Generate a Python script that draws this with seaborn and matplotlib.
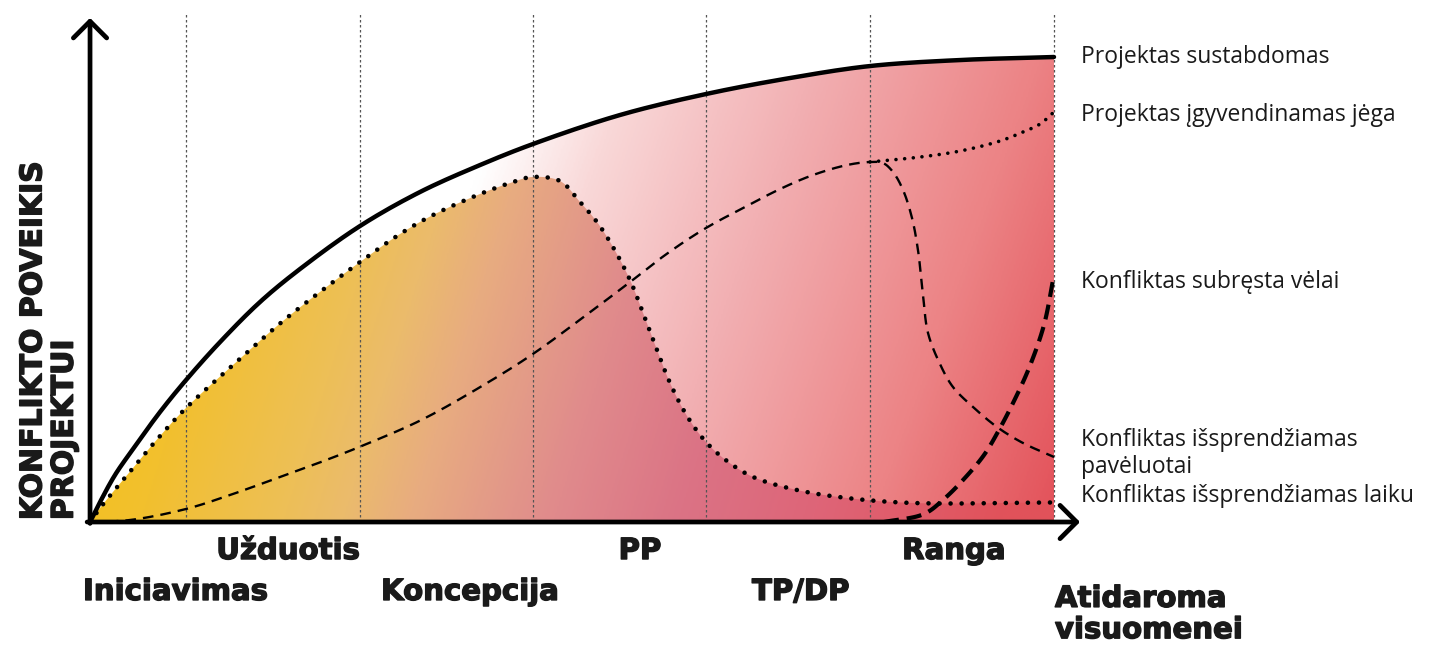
import numpy as np
import seaborn as sns
import matplotlib.pyplot as plt
import matplotlib.patheffects as pe
from matplotlib.colors import LinearSegmentedColormap
from matplotlib.patches import Polygon

# project timeline 0..100, impact 0..100
stage_x = [9.96, 28.0, 45.95, 63.9, 80.9, 100.0]

# Projektas sustabdomas - envelope
env_x = [0, 1.04, 2.59, 4.46, 7.26, 9.96, 13.49, 17.63, 21.78, 28.01, 34.23,
         40.46, 45.95, 54.98, 63.90, 72.61, 80.91, 90.25, 100]
env_y = [0, 4.30, 10.11, 15.70, 23.66, 30.54, 38.71, 47.31, 54.41, 63.66, 70.97,
         76.77, 81.29, 87.53, 92.04, 95.48, 98.06, 99.35, 100]

# Konfliktas issprendziamas laiku - dotted hump
ontime_x = [0, 1.04, 4.46, 7.26, 9.96, 14.83, 20.02, 25.21, 28.01, 32.16, 35.58,
            40.46, 43.57, 45.85, 48.76, 50.83, 52.59, 54.25, 56.02, 57.37, 58.82,
            60.17, 61.93, 63.90, 66.08, 68.78, 73.34, 78.53, 85.37, 100]
ontime_y = [0, 3.01, 11.61, 18.49, 24.52, 33.76, 43.23, 51.61, 55.91, 61.94, 66.02,
            70.54, 72.90, 74.19, 73.33, 68.82, 64.52, 59.14, 52.04, 44.95, 36.99,
            29.89, 22.80, 17.20, 13.12, 9.68, 6.88, 5.16, 4.09, 4.20]

# Konfliktas issprendziamas pavėluotai - thin dashed
late_x = [0, 4.15, 9.96, 14.52, 19.71, 24.59, 28.01, 34.23, 40.46, 45.85, 50.83,
          56.02, 59.85, 63.90, 68.15, 71.58, 75.00, 78.53, 80.91, 82.26, 83.30,
          84.34, 85.27, 85.89, 86.41, 86.93, 88.17, 89.52, 91.60, 94.09, 96.78, 100]
late_y = [0, 0.43, 2.80, 5.81, 9.68, 13.40, 16.20, 21.80, 29.00, 36.00, 43.50,
          51.60, 57.70, 63.23, 67.96, 71.61, 74.62, 76.77, 77.42, 77.20, 75.27,
          71.40, 65.38, 58.49, 48.82, 40.65, 33.98, 29.03, 24.73, 20.43, 16.99, 13.98]

# Projektas igyvendinamas jega - dotted branch
force_x = [80.91, 81.95, 86.10, 90.25, 94.40, 96.78, 98.55, 100]
force_y = [77.42, 77.63, 78.49, 79.78, 81.94, 83.87, 85.59, 88.17]

# Konfliktas subresta velai - long dash
ripe_x = [82.37, 86.51, 88.59, 90.66, 92.74, 94.29, 95.85, 97.41, 98.96, 100]
ripe_y = [0, 1.72, 4.95, 9.25, 14.41, 19.78, 26.02, 33.12, 42.37, 53.12]

phase_upper = ["Užduotis", "PP", "Ranga"]
phase_upper_x = [20.54, 57.05, 89.6]
phase_lower = ["Iniciavimas", "Koncepcija", "TP/DP"]
phase_lower_x = [-0.73, 30.19, 68.67]

outcomes = ["Projektas sustabdomas", "Projektas įgyvendinamas jėga",
            "Konfliktas subręsta vėlai", "Konfliktas išsprendžiamas",
            "pavėluotai", "Konfliktas išsprendžiamas laiku"]
outcomes_y = [100.0, 87.5, 51.6, 17.6, 11.8, 5.6]


# centripetal Catmull-Rom through the read points, just for a smooth stroke
def smooth(xs, ys, n=14):
    P = np.column_stack([xs, ys]).astype(float)
    P = np.vstack([2 * P[0] - P[1], P, 2 * P[-1] - P[-2]])
    scale = np.array([9.64, 4.65])
    out = []
    for i in range(1, len(P) - 2):
        p0, p1, p2, p3 = P[i - 1], P[i], P[i + 1], P[i + 2]
        t0 = 0.0
        t1 = t0 + np.linalg.norm((p1 - p0) * scale) ** 0.5
        t2 = t1 + np.linalg.norm((p2 - p1) * scale) ** 0.5
        t3 = t2 + np.linalg.norm((p3 - p2) * scale) ** 0.5
        t = np.linspace(t1, t2, n, endpoint=False)[:, None]
        a1 = (t1 - t) / (t1 - t0) * p0 + (t - t0) / (t1 - t0) * p1
        a2 = (t2 - t) / (t2 - t1) * p1 + (t - t1) / (t2 - t1) * p2
        a3 = (t3 - t) / (t3 - t2) * p2 + (t - t2) / (t3 - t2) * p3
        b1 = (t2 - t) / (t2 - t0) * a1 + (t - t0) / (t2 - t0) * a2
        b2 = (t3 - t) / (t3 - t1) * a2 + (t - t1) / (t3 - t1) * a3
        c = (t2 - t) / (t2 - t1) * b1 + (t - t1) / (t2 - t1) * b2
        out.append(c)
    out.append(P[-2][None, :])
    out = np.vstack(out)
    return out[:, 0], out[:, 1]


sns.set_theme(style="white")
plt.rcParams['font.family'] = ['DejaVu Sans']

fig = plt.figure(figsize=(14.39, 6.45), dpi=100)
ax = fig.add_axes([0, 0, 1, 1])

env_sx, env_sy = smooth(env_x, env_y)
ont_sx, ont_sy = smooth(ontime_x, ontime_y)
late_sx, late_sy = smooth(late_x, late_y)
force_sx, force_sy = smooth(force_x, force_y)
ripe_sx, ripe_sy = smooth(ripe_x, ripe_y)

# gradient fills
gx = np.linspace(0, 100, 600)
gy = np.linspace(0, 100, 300)
GX, GY = np.meshgrid(gx, gy)

base_cmap = LinearSegmentedColormap.from_list("base", [
    (0.0, "#FFFFFF"), (0.38, "#FFFFFF"), (0.48, "#F9D8D8"), (0.64, "#F2B0B3"),
    (0.84, "#EC8385"), (1.0, "#E3525A")])
t_base = np.clip(0.85 * GX / 100 + 0.15 * (1 - GY / 100), 0, 1)
im1 = ax.imshow(base_cmap(t_base), extent=[0, 100, 0, 100], origin="lower",
                aspect="auto", interpolation="bilinear", zorder=1)
env_poly = Polygon(np.column_stack([np.r_[env_sx, 100, 0], np.r_[env_sy, 0, 0]]),
                   closed=True, facecolor="none", edgecolor="none")
ax.add_patch(env_poly)
im1.set_clip_path(env_poly)

warm_cmap = LinearSegmentedColormap.from_list("warm", [
    (0.0, "#F3C11F"), (0.1, "#F2C02E"), (0.25, "#EDBF58"), (0.31, "#EBBB6C"),
    (0.38, "#E8AC80"), (0.46, "#E39A88"), (0.53, "#E08A8C"), (0.66, "#DB7385"),
    (0.8, "#DE6578"), (1.0, "#E1525A")])
t_warm = np.clip(GX / 100 - 0.15 * GY / 100 + 0.05, 0, 1)
im2 = ax.imshow(warm_cmap(t_warm), extent=[0, 100, 0, 100], origin="lower",
                aspect="auto", interpolation="bilinear", zorder=1.5)
warm_poly = Polygon(np.column_stack([np.r_[ont_sx, 100, 0], np.r_[ont_sy, 0, 0]]),
                    closed=True, facecolor="none", edgecolor="none")
ax.add_patch(warm_poly)
im2.set_clip_path(warm_poly)

# stage gridlines
ax.vlines(stage_x, 0, 109.7, colors="#555555", lw=0.9, linestyles=(0, (2, 2)), zorder=2)

# curves
sns.lineplot(x=late_sx, y=late_sy, ax=ax, color="black", lw=1.7, sort=False,
             linestyle=(0, (4.5, 3)), zorder=3)
sns.lineplot(x=force_sx, y=force_sy, ax=ax, color="black", lw=2.6, sort=False,
             linestyle=(0, (0.01, 2.4)), dash_capstyle="round", zorder=3)
sns.lineplot(x=ripe_sx, y=ripe_sy, ax=ax, color="black", lw=3.0, sort=False,
             linestyle=(0, (3.6, 1.9)), zorder=3)
sns.lineplot(x=ont_sx, y=ont_sy, ax=ax, color="black", lw=3.3, sort=False,
             linestyle=(0, (0.01, 2.4)), dash_capstyle="round", zorder=3)
sns.lineplot(x=env_sx, y=env_sy, ax=ax, color="black", lw=3.2, sort=False, zorder=4)

# axis arrows
arrow = dict(arrowstyle="->,head_length=0.6,head_width=0.6", lw=3.4,
             color="black", mutation_scale=20, shrinkA=0, shrinkB=0)
ax.annotate("", xy=(0, 108.4), xytext=(0, -0.3), arrowprops=arrow, zorder=5)
ax.annotate("", xy=(102.7, 0), xytext=(-0.3, 0), arrowprops=arrow, zorder=5)

# labels
heavy = [pe.withStroke(linewidth=1.0, foreground="#1a1a1a")]
bold = dict(fontsize=21, fontweight="bold", color="#1a1a1a", path_effects=heavy)
for lab, x in zip(phase_upper, phase_upper_x):
    ax.text(x, -6.24, lab, ha="center", va="center", **bold)
for lab, x in zip(phase_lower, phase_lower_x):
    ax.text(x, -15.05, lab, ha="left", va="center", **bold)
ax.text(100.1, -19.9, "Atidaroma\nvisuomenei", ha="left", va="center",
        linespacing=1.15, **bold)
ax.text(-4.3, 0.4, "KONFLIKTO POVEIKIS\nPROJEKTUI", rotation=90, ha="center",
        va="bottom", multialignment="left", linespacing=1.1,
        fontsize=21.5, fontweight="bold", color="#1a1a1a", path_effects=heavy)

for lab, y in zip(outcomes, outcomes_y):
    ax.text(102.8, y, lab, ha="left", va="center", fontsize=16.5,
            family=["Open Sans", "DejaVu Sans"], color="#1a1a1a")

ax.set_xlim(-9.34, 139.94)
ax.set_ylim(-26.45, 112.26)
ax.axis("off")

fig.savefig("out.png", dpi=100)
